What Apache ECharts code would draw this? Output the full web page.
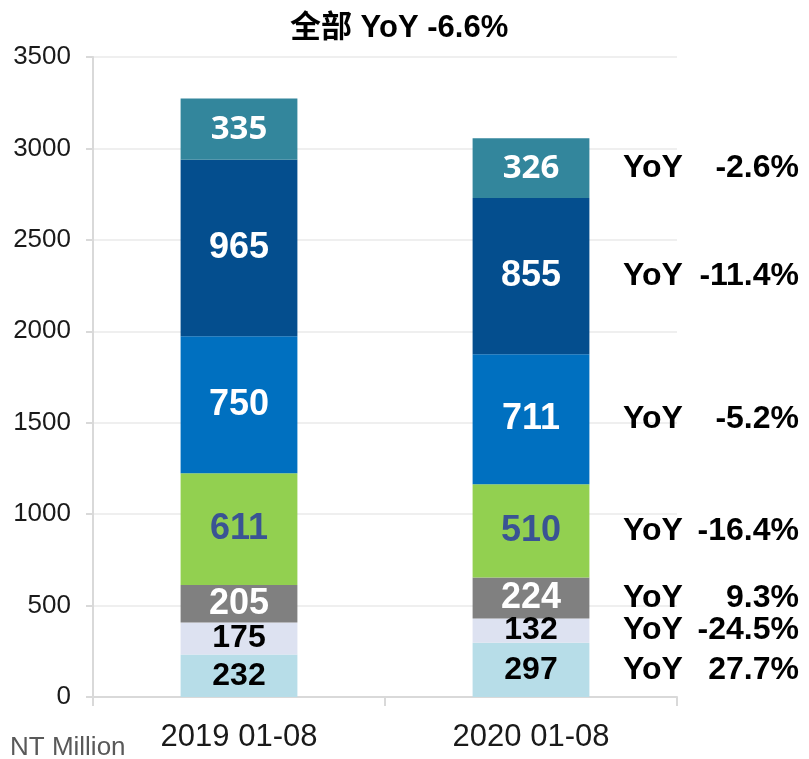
<!DOCTYPE html>
<html>
<head>
<meta charset="utf-8">
<script src="https://cdn.jsdelivr.net/npm/echarts@6/dist/echarts.min.js"></script>
<style>
html,body{margin:0;padding:0;background:#fff;}
#chart{width:809px;height:759px;}
</style>
</head>
<body>
<div id="chart"></div>
<script>
// ---- data ----
const categories = ['2019 01-08', '2020 01-08'];
const seriesNames = ['s1', 's2', 's3', 's4', 's5', 's6', 's7'];
const values2019 = [232, 175, 205, 611, 750, 965, 335];
const values2020 = [297, 132, 224, 510, 711, 855, 326];
const yoyLabels = ['27.7%', '-24.5%', '9.3%', '-16.4%', '-5.2%', '-11.4%', '-2.6%'];
const yTicks = [0, 500, 1000, 1500, 2000, 2500, 3000, 3500];
const titleText = '全部 YoY -6.6%';
const unitText = 'NT Million';

// ---- styles ----
const barColors = ['#b7dde8', '#dde2f1', '#808080', '#92d050', '#0070c0', '#044e8e', '#33869c'];
const labelColors = ['#000000', '#000000', '#ffffff', '#3a5394', '#ffffff', '#ffffff', '#ffffff'];
const labelFonts = ['Liberation Sans', 'Liberation Sans', 'Liberation Sans', 'Liberation Sans', 'Liberation Sans', 'Liberation Sans', 'Open Sans'];
const labelSizes = [32, 32, 36, 36, 36, 36, 33];

const chart = echarts.init(document.getElementById('chart'));

const series = seriesNames.map((name, i) => ({
  name: name,
  type: 'bar',
  stack: 'total',
  barWidth: '40%',
  data: [values2019[i], values2020[i]],
  itemStyle: { color: barColors[i] },
  label: {
    show: true,
    position: 'inside',
    color: labelColors[i],
    fontFamily: labelFonts[i],
    fontWeight: 'bold',
    fontSize: labelSizes[i]
  },
  emphasis: { disabled: true }
}));

// YoY labels next to the 2020 bar, at the centre of each segment
let cum = 0;
const yoyPoints = values2020.map((v, i) => {
  const c = cum + v / 2;
  cum += v;
  return { value: [categories[1], c], yoy: yoyLabels[i] };
});

series.push({
  type: 'scatter',
  symbolSize: 0,
  itemStyle: { color: '#000000', opacity: 1 },
  data: yoyPoints,
  z: 10,
  label: {
    show: true,
    position: 'right',
    distance: 92,
    color: '#000000',
    opacity: 1,
    fontSize: 32,
    fontWeight: 'bold',
    fontFamily: 'Liberation Sans',
    formatter: p => '{a|YoY}{b|' + p.data.yoy + '}',
    rich: {
      a: { width: 60, fontSize: 32, fontWeight: 'bold', fontFamily: 'Liberation Sans', color: '#000000' },
      b: { width: 116, align: 'right', fontSize: 32, fontWeight: 'bold', fontFamily: 'Liberation Sans', color: '#000000' }
    }
  },
  emphasis: { disabled: true },
  silent: true
});

chart.setOption({
  animation: false,
  title: {
    text: titleText,
    left: 285,
    top: 8,
    textStyle: {
      fontSize: 31,
      fontWeight: 'bold',
      color: '#000',
      fontFamily: 'Liberation Sans, Noto Sans CJK SC'
    }
  },
  grid: { left: 93, right: 132, top: 57, bottom: 62, containLabel: false },
  xAxis: {
    type: 'category',
    data: categories,
    axisLine: { lineStyle: { color: '#d9d9d9', width: 2 } },
    axisTick: { show: true, length: 9, alignWithLabel: false, lineStyle: { color: '#d9d9d9', width: 2 } },
    axisLabel: { fontSize: 31, color: '#1a1a1a', fontFamily: 'Liberation Sans', margin: 25 }
  },
  yAxis: {
    type: 'value',
    min: yTicks[0],
    max: yTicks[yTicks.length - 1],
    interval: yTicks[1] - yTicks[0],
    axisLine: { show: true, lineStyle: { color: '#d9d9d9', width: 2 } },
    axisTick: { show: true, length: 7, lineStyle: { color: '#d9d9d9', width: 2 } },
    axisLabel: { fontSize: 26, color: '#1a1a1a', fontFamily: 'Liberation Sans', margin: 22, formatter: v => String(v) },
    splitLine: { lineStyle: { color: '#efefef', width: 2 } }
  },
  graphic: [{
    type: 'text',
    left: 10,
    top: 735,
    style: { text: unitText, fontSize: 26, fill: '#595959', fontFamily: 'Liberation Sans' }
  }],
  series: series
});
</script>
</body>
</html>
